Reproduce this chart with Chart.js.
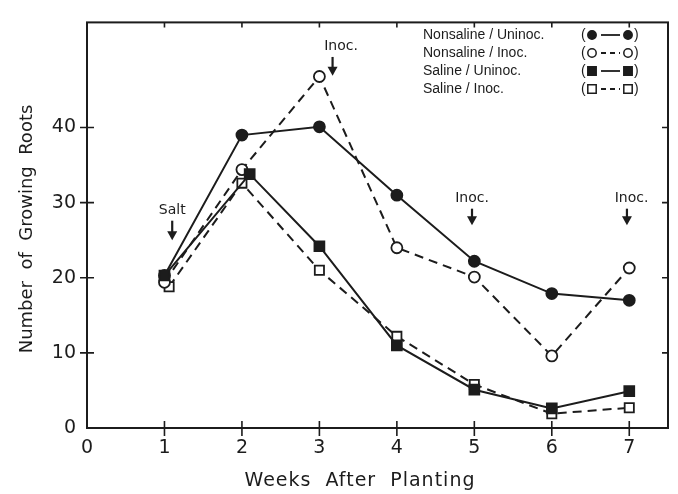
<!DOCTYPE html>
<html>
<head>
<meta charset="utf-8">
<script src="https://cdn.jsdelivr.net/npm/chart.js@4"></script>
<style>
  html, body { margin: 0; padding: 0; background: #fff; }
</style>
</head>
<body>
<canvas id="chart-roots" width="678" height="494"></canvas>
<script>
const weeks = [1, 2, 3, 4, 5, 6, 7];
const salineUninocWeeks = [1, 2.1, 3, 4, 5, 6, 7];
const salineInocWeeks = [1.06, 2, 3, 4, 5, 6, 7];

const nonsalineUninoc = [20.3, 39.0, 40.1, 31.0, 22.2, 17.9, 17.0];
const nonsalineInoc = [19.4, 34.4, 46.8, 24.0, 20.1, 9.6, 21.3];
const salineUninoc = [20.3, 33.8, 24.2, 11.0, 5.1, 2.6, 4.9];
const salineInoc = [18.8, 32.6, 21.0, 12.2, 5.8, 1.9, 2.7];

const xTicks = [0, 1, 2, 3, 4, 5, 6, 7];
const yTicks = [0, 10, 20, 30, 40];

const seriesLabels = ["Nonsaline / Uninoc.", "Nonsaline / Inoc.", "Saline / Uninoc.", "Saline / Inoc."];

// treatment markers: label, week, text level, arrow top, arrow tip
const treatments = [
  { text: "Salt", week: 1.1, textAt: 29.0, arrowWeek: 1.1, from: 27.6, to: 25.0 },
  { text: "Inoc.", week: 3.28, textAt: 50.8, arrowWeek: 3.17, from: 49.4, to: 46.9 },
  { text: "Inoc.", week: 4.97, textAt: 30.6, arrowWeek: 4.97, from: 29.2, to: 27.0 },
  { text: "Inoc.", week: 7.03, textAt: 30.6, arrowWeek: 6.97, from: 29.2, to: 27.0 },
];

const ink = "#1c1c1c";
const fontFamily = "'DejaVu Sans', sans-serif";

const toPoints = (xs, ys) => ys.map((y, i) => ({ x: xs[i], y }));

const styles = [
  { pointStyle: "circle", radius: 5.5, filled: true, dash: [] },
  { pointStyle: "circle", radius: 5.5, filled: false, dash: [9, 6] },
  { pointStyle: "rect", radius: 7, filled: true, dash: [] },
  { pointStyle: "rect", radius: 6.5, filled: false, dash: [9, 6] },
];

const makeDataset = (label, points, style, order) => ({
  label,
  data: points,
  order,
  borderColor: ink,
  borderWidth: 2,
  borderDash: style.dash,
  pointStyle: style.pointStyle,
  pointRadius: style.radius,
  pointHoverRadius: style.radius,
  pointBorderWidth: 1.8,
  pointBorderColor: ink,
  pointBackgroundColor: style.filled ? ink : "#fff",
  tension: 0,
  fill: false,
});

const drawLegendMark = (ctx, style, x, y) => {
  ctx.beginPath();
  if (style.pointStyle === "circle") {
    ctx.arc(x, y, 4.2, 0, Math.PI * 2);
  } else {
    ctx.rect(x - 4.2, y - 4.2, 8.4, 8.4);
  }
  ctx.fillStyle = style.filled ? ink : "#fff";
  ctx.fill();
  ctx.lineWidth = 1.5;
  ctx.stroke();
};

const framePlugin = {
  id: "frame",
  beforeDatasetsDraw(chart) {
    const { ctx, chartArea: area, scales } = chart;
    ctx.save();
    ctx.strokeStyle = ink;
    ctx.lineWidth = 2;
    ctx.strokeRect(area.left, area.top, area.right - area.left, area.bottom - area.top);

    ctx.lineWidth = 1.6;
    ctx.beginPath();
    xTicks.slice(1).forEach((v) => {
      const px = scales.x.getPixelForValue(v);
      ctx.moveTo(px, area.bottom - 7);
      ctx.lineTo(px, area.bottom + 8);
      ctx.moveTo(px, area.top);
      ctx.lineTo(px, area.top + 5);
    });
    yTicks.slice(1).forEach((v) => {
      const py = scales.y.getPixelForValue(v);
      ctx.moveTo(area.left - 7, py);
      ctx.lineTo(area.left + 7, py);
      ctx.moveTo(area.right, py);
      ctx.lineTo(area.right - 6, py);
    });
    ctx.stroke();
    ctx.restore();
  },
  afterDraw(chart) {
    const { ctx, scales } = chart;
    ctx.save();
    ctx.fillStyle = ink;
    ctx.strokeStyle = ink;

    // axis titles
    ctx.font = `19px ${fontFamily}`;
    ctx.textAlign = "center";
    ctx.textBaseline = "middle";
    ctx.letterSpacing = "1px";
    ctx.fillText("Weeks  After  Planting", 360, 481);
    ctx.font = `18px ${fontFamily}`;
    ctx.letterSpacing = "0px";
    ctx.save();
    ctx.translate(27, 229);
    ctx.rotate(-Math.PI / 2);
    ctx.fillText("Number  of  Growing  Roots", 0, 0);
    ctx.restore();

    // treatment arrows
    ctx.font = `14px ${fontFamily}`;
    treatments.forEach((t) => {
      ctx.fillText(t.text, scales.x.getPixelForValue(t.week), scales.y.getPixelForValue(t.textAt));
      const ax = scales.x.getPixelForValue(t.arrowWeek);
      const top = scales.y.getPixelForValue(t.from);
      const tip = scales.y.getPixelForValue(t.to);
      ctx.lineWidth = 2.2;
      ctx.beginPath();
      ctx.moveTo(ax, top);
      ctx.lineTo(ax, tip - 6);
      ctx.stroke();
      ctx.beginPath();
      ctx.moveTo(ax - 5, tip - 9);
      ctx.lineTo(ax + 5, tip - 9);
      ctx.lineTo(ax, tip);
      ctx.closePath();
      ctx.fill();
    });

    // legend
    const rows = [35, 53, 71, 89];
    ctx.font = `14px 'Liberation Sans', sans-serif`;
    ctx.textAlign = "left";
    seriesLabels.forEach((label, i) => {
      const y = rows[i];
      const style = styles[i];
      ctx.fillStyle = ink;
      ctx.fillText(label, 423, y);
      ctx.fillText("(", 581, y);
      ctx.fillText(")", 634, y);
      ctx.lineWidth = 1.8;
      ctx.setLineDash(style.dash.length ? [5, 4] : []);
      ctx.beginPath();
      ctx.moveTo(601, y);
      ctx.lineTo(620, y);
      ctx.stroke();
      ctx.setLineDash([]);
      drawLegendMark(ctx, style, 592, y);
      drawLegendMark(ctx, style, 628, y);
    });
    ctx.restore();
  },
};

const chartConfig = {
  type: "line",
  data: {
    datasets: [
      makeDataset(seriesLabels[0], toPoints(weeks, nonsalineUninoc), styles[0], 3),
      makeDataset(seriesLabels[1], toPoints(weeks, nonsalineInoc), styles[1], 1),
      makeDataset(seriesLabels[2], toPoints(salineUninocWeeks, salineUninoc), styles[2], 0),
      makeDataset(seriesLabels[3], toPoints(salineInocWeeks, salineInoc), styles[3], 2),
    ],
  },
  options: {
    responsive: false,
    animation: false,
    layout: { padding: { top: 13, right: 10, left: 0, bottom: 0 } },
    plugins: {
      legend: { display: false },
      tooltip: { enabled: false },
    },
    scales: {
      x: {
        type: "linear",
        min: 0,
        max: 7.5,
        afterBuildTicks: (axis) => { axis.ticks = xTicks.map((value) => ({ value })); },
        afterFit: (axis) => { axis.height = 66; },
        grid: { display: false, drawTicks: false },
        border: { display: false },
        ticks: { color: ink, font: { family: fontFamily, size: 19 }, padding: 9, maxRotation: 0, autoSkip: false },
      },
      y: {
        type: "linear",
        min: 0,
        max: 54,
        afterBuildTicks: (axis) => { axis.ticks = yTicks.map((value) => ({ value })); },
        afterFit: (axis) => { axis.width = 87; },
        grid: { display: false, drawTicks: false },
        border: { display: false },
        ticks: { color: ink, font: { family: fontFamily, size: 19 }, padding: 11 },
      },
    },
  },
  plugins: [framePlugin],
};

new Chart(document.querySelector("#chart-roots"), chartConfig);
</script>
</body>
</html>
